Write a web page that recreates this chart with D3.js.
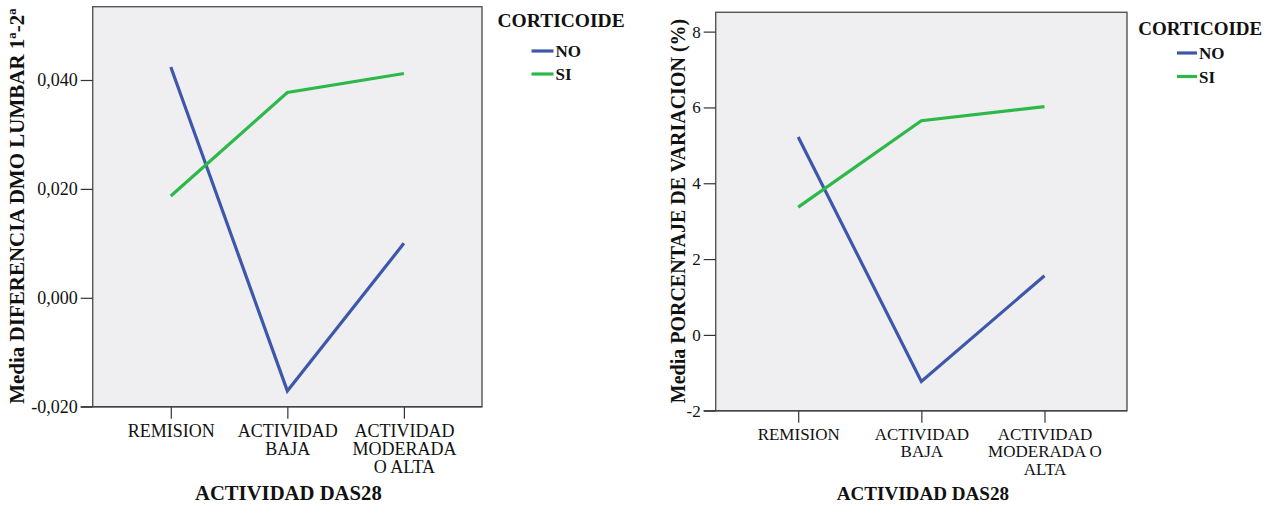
<!DOCTYPE html>
<html>
<head>
<meta charset="utf-8">
<script src="https://cdn.jsdelivr.net/npm/d3@7"></script>
<style>
  html, body { margin: 0; padding: 0; background: #ffffff; }
  svg { display: block; }
  text { font-family: "Liberation Serif", "Times New Roman", serif; fill: #111; }
</style>
</head>
<body>
<svg id="chart" width="1283" height="509"></svg>
<script>
// Categories of DAS28 activity (shared by both panels)
const categories = ["REMISION", "ACTIVIDAD BAJA", "ACTIVIDAD MODERADA O ALTA"];
const categoryLinesLeft = [["REMISION"], ["ACTIVIDAD", "BAJA"], ["ACTIVIDAD", "MODERADA", "O ALTA"]];
const categoryLinesRight = [["REMISION"], ["ACTIVIDAD", "BAJA"], ["ACTIVIDAD", "MODERADA O", "ALTA"]];

// Mean lumbar BMD difference (1ª-2ª) by corticoid use
const dmoNo = [0.0424, -0.0171, 0.0100];
const dmoSi = [0.0187, 0.0377, 0.0412];
const dmoTicks = [-0.02, 0.0, 0.02, 0.04];

// Mean percentage of variation (%) by corticoid use
const pctNo = [5.22, -1.23, 1.56];
const pctSi = [3.37, 5.65, 6.02];
const pctTicks = [-2, 0, 2, 4, 6, 8];

const seriesNames = ["NO", "SI"];
const seriesColors = ["#3e57ab", "#2db84a"];

const svg = d3.select("#chart");
const serif = '"Liberation Serif", "Times New Roman", serif';

function panel(opts) {
  const g = svg.append("g");
  const x = d3.scalePoint().domain(categories).range([opts.x0, opts.x1]).padding(0.67);
  const y = d3.scaleLinear().domain(opts.domain).range([opts.y1, opts.y0]);

  // plot background
  g.append("rect")
    .attr("x", opts.x0).attr("y", opts.y0)
    .attr("width", opts.x1 - opts.x0).attr("height", opts.y1 - opts.y0)
    .attr("fill", "#efeff2").attr("stroke", "#555").attr("stroke-width", 1.4);

  // y axis
  const yAxis = g.append("g")
    .attr("transform", `translate(${opts.x0},0)`)
    .call(d3.axisLeft(y).tickValues(opts.ticks).tickFormat(opts.fmt).tickSize(12).tickPadding(3));
  yAxis.attr("font-family", null);
  yAxis.select(".domain").remove();
  yAxis.selectAll(".tick line").attr("stroke", "#333").attr("stroke-width", 1.2);
  yAxis.selectAll(".tick text")
    .style("font-family", serif)
    .style("font-size", opts.tickFont + "px").attr("fill", "#111");

  // x axis
  const xAxis = g.append("g")
    .attr("transform", `translate(0,${opts.y1})`)
    .call(d3.axisBottom(x).tickSize(12).tickFormat(""));
  xAxis.attr("font-family", null);
  xAxis.select(".domain").remove();
  xAxis.selectAll(".tick line").attr("stroke", "#333").attr("stroke-width", 1.2);
  xAxis.selectAll(".tick").each(function(d, i) {
    const t = d3.select(this).append("text")
      .attr("text-anchor", "middle")
      .attr("y", opts.xLabelY)
      .style("font-family", serif)
      .style("font-size", opts.xFont + "px");
    opts.lines[i].forEach((ln, k) => {
      t.append("tspan").attr("x", 0).attr("dy", k === 0 ? 0 : opts.xLineH).text(ln);
    });
  });
  // bottom border over ticks
  g.append("line")
    .attr("x1", opts.x0 - 12).attr("x2", opts.x1)
    .attr("y1", opts.y1).attr("y2", opts.y1)
    .attr("stroke", "#444").attr("stroke-width", 1.4);

  // series lines
  const line = d3.line().x((d, i) => x(categories[i])).y(d => y(d));
  opts.series.forEach((vals, s) => {
    g.append("path")
      .datum(vals)
      .attr("d", line)
      .attr("fill", "none")
      .attr("stroke", seriesColors[s])
      .attr("stroke-width", 3.2)
      .attr("stroke-linejoin", "miter");
  });

  // axis titles
  g.append("text")
    .attr("transform", `translate(${opts.yTitleX},${(opts.y0 + opts.y1) / 2 + opts.yTitleShift}) rotate(-90)`)
    .attr("text-anchor", "middle")
    .style("font-family", serif)
    .style("font-size", opts.yTitleFont + "px").style("font-weight", "bold")
    .text(opts.yTitle);
  g.append("text")
    .attr("x", (opts.x0 + opts.x1) / 2 + opts.xTitleShift).attr("y", opts.xTitleY)
    .attr("text-anchor", "middle")
    .style("font-family", serif)
    .style("font-size", opts.xTitleFont + "px").style("font-weight", "bold")
    .text("ACTIVIDAD DAS28");

  // legend
  const lg = g.append("g");
  lg.append("text")
    .attr("x", opts.legX).attr("y", opts.legTitleY)
    .style("font-family", serif)
    .style("font-size", opts.legTitleFont + "px").style("font-weight", "bold")
    .text("CORTICOIDE");
  seriesNames.forEach((nm, s) => {
    const yy = opts.legItemY + s * opts.legStep;
    lg.append("line")
      .attr("x1", opts.legLineX).attr("x2", opts.legLineX + opts.legLineW)
      .attr("y1", yy).attr("y2", yy)
      .attr("stroke", seriesColors[s]).attr("stroke-width", 3.2);
    lg.append("text")
      .attr("x", opts.legLineX + opts.legLineW + 2).attr("y", yy + 6)
      .style("font-family", serif)
      .style("font-size", opts.legItemFont + "px").style("font-weight", "bold")
      .text(nm);
  });
}

panel({
  x0: 92.7, x1: 482, y0: 6.7, y1: 406.7,
  domain: [-0.02, 0.05346], ticks: dmoTicks,
  fmt: d => d3.format(".3f")(d).replace(".", ",").replace("−", "-"),
  tickFont: 18,
  lines: categoryLinesLeft, xFont: 18, xLabelY: 30, xLineH: 18.3,
  series: [dmoNo, dmoSi],
  yTitle: "Media DIFERENCIA DMO LUMBAR 1ª-2ª", yTitleX: 23.5, yTitleShift: -0.5, yTitleFont: 21,
  xTitleY: 500, xTitleShift: 1, xTitleFont: 20.7,
  legX: 497.5, legTitleY: 27, legTitleFont: 19.5,
  legLineX: 531.5, legLineW: 22, legItemY: 51, legStep: 23, legItemFont: 17
});

panel({
  x0: 715.7, x1: 1127, y0: 12.3, y1: 410.7,
  domain: [-2, 8.51], ticks: pctTicks,
  fmt: d => d3.format("d")(d).replace("−", "-"),
  tickFont: 17,
  lines: categoryLinesRight, xFont: 17, xLabelY: 29, xLineH: 17.5,
  series: [pctNo, pctSi],
  yTitle: "Media PORCENTAJE DE VARIACION (%)", yTitleX: 685, yTitleShift: -0.5, yTitleFont: 20,
  xTitleY: 500, xTitleShift: 1.5, xTitleFont: 19.1,
  legX: 1138.3, legTitleY: 34.5, legTitleFont: 19,
  legLineX: 1177, legLineW: 20, legItemY: 53, legStep: 23.5, legItemFont: 17
});
</script>
</body>
</html>
